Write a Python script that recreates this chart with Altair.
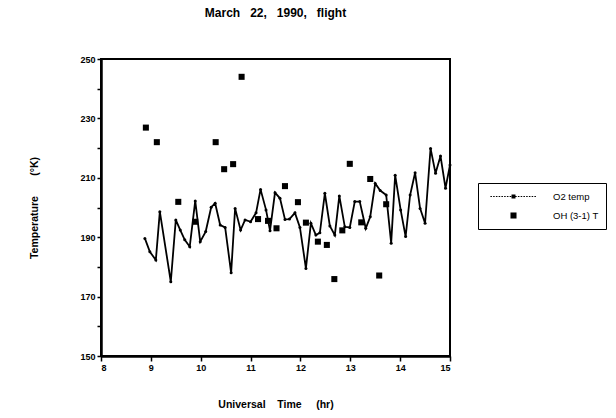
import altair as alt
import pandas as pd

# O2 temperature series (Universal Time hr, Temperature K)
o2_time = [8.88, 8.98, 9.10, 9.18, 9.40, 9.50, 9.59, 9.68, 9.78, 9.89, 9.99,
           10.10, 10.21, 10.29, 10.39, 10.49, 10.61, 10.69, 10.80, 10.89, 11.00,
           11.11, 11.20, 11.31, 11.39, 11.49, 11.59, 11.69, 11.78, 11.89, 11.99,
           12.11, 12.21, 12.31, 12.39, 12.49, 12.59, 12.69, 12.78, 12.89, 12.99,
           13.09, 13.19, 13.31, 13.40, 13.50, 13.60, 13.72, 13.82, 13.90, 14.01,
           14.11, 14.20, 14.30, 14.40, 14.50, 14.61, 14.71, 14.81, 14.91, 15.00]
o2_temp = [189.6, 185.1, 182.3, 198.6, 175.0, 195.8, 192.4, 189.1, 186.8, 202.2, 188.5,
           191.9, 200.1, 201.4, 194.1, 193.3, 178.0, 199.7, 192.4, 195.8, 195.2,
           198.2, 206.1, 199.2, 192.2, 205.0, 203.1, 196.0, 196.1, 198.2, 193.3,
           179.5, 194.7, 190.7, 191.5, 204.8, 193.8, 190.7, 203.9, 193.5, 193.3,
           202.0, 202.0, 193.0, 196.9, 208.1, 205.7, 204.2, 188.0, 210.9, 199.2,
           190.2, 204.2, 211.7, 199.7, 194.7, 219.9, 211.5, 217.3, 206.5, 214.3]

# OH (3-1) rotational temperature
oh_time = [8.90, 9.12, 9.55, 9.89, 10.30, 10.47, 10.65, 10.82, 11.15, 11.35, 11.52,
           11.69, 11.95, 12.11, 12.35, 12.53, 12.68, 12.84, 12.99, 13.22, 13.40,
           13.58, 13.72]
oh_temp = [226.9, 222.0, 201.9, 195.2, 222.0, 212.9, 214.6, 244.0, 196.1, 195.5, 193.0,
           207.2, 201.8, 194.9, 188.5, 187.4, 175.9, 192.3, 214.7, 195.0, 209.6,
           177.1, 201.1]

series_names = ["O2 temp", "OH (3-1) T"]
x_ticks = [8, 8.5, 9, 9.5, 10, 10.5, 11, 11.5, 12, 12.5, 13, 13.5, 14, 14.5, 15]
y_ticks = [150, 160, 170, 180, 190, 200, 210, 220, 230, 240, 250]

o2 = pd.DataFrame({"t": o2_time, "T": o2_temp})
oh = pd.DataFrame({"t": oh_time, "T": oh_temp, "series": series_names[1]})

NB = "\u00a0"
FONT = "Liberation Sans"

x_enc = alt.X(
    "t:Q",
    scale=alt.Scale(domain=[8, 15], nice=False, zero=False),
    axis=alt.Axis(
        values=x_ticks,
        format="d",
        title="Universal" + NB * 4 + "Time" + NB * 5 + "(hr)",
        labelExpr="datum.value % 1 === 0 ? datum.label : ''",
        tickSize={"condition": {"test": "datum.value % 1 === 0", "value": 5}, "value": 2},
        titlePadding=27,
    ),
)
y_enc = alt.Y(
    "T:Q",
    scale=alt.Scale(domain=[150, 250], nice=False, zero=False),
    axis=alt.Axis(
        values=y_ticks,
        format="d",
        title="Temperature" + NB * 7 + "(°K)",
        labelExpr="datum.value % 20 === 0 ? '' : datum.label",
        tickSize=4,
        titlePadding=40,
    ),
)

line = alt.Chart(o2).mark_line(color="black", strokeWidth=1.8).encode(x=x_enc, y=y_enc)
dots = alt.Chart(o2).mark_circle(color="black", size=9, opacity=1).encode(x=x_enc, y=y_enc)

# legend glyph for the O2 series: a dotted line with a small marker in the middle
dash_parts = []
for i in range(17):
    x0 = -4.2 + i * 0.5
    dash_parts.append("M%.2f,-0.09H%.2fV0.09H%.2fZ" % (x0, x0 + 0.28, x0))
o2_symbol = "".join(dash_parts) + "M-0.36,-0.36H0.36V0.36H-0.36Z"
sq_symbol = "M-0.55,-0.55H0.55V0.55H-0.55Z"

squares = alt.Chart(oh).mark_point(
    filled=True, color="black", opacity=1, size=121
).encode(
    x=x_enc,
    y=y_enc,
    shape=alt.Shape(
        "series:N",
        scale=alt.Scale(domain=series_names, range=[o2_symbol, sq_symbol]),
        legend=alt.Legend(
            title=None,
            orient="none",
            legendX=377,
            legendY=124,
            strokeColor="black",
            padding=7,
            symbolSize=121,
            symbolOffset=22,
            symbolFillColor="black",
            labelOffset=33,
            labelFont=FONT,
            labelFontSize=9.5,
            labelColor="black",
            rowPadding=7,
        ),
    ),
)

chart = (
    alt.layer(line, dots, squares)
    .properties(
        width=349,
        height=297,
        background="white",
        title=alt.TitleParams(
            "March" + NB * 3 + "22," + NB * 3 + "1990," + NB * 3 + "flight",
            font=FONT,
            fontSize=12,
            fontWeight="bold",
            color="black",
            anchor="middle",
            offset=35,
        ),
        autosize=alt.AutoSizeParams(type="none"),
        padding={"left": 101, "top": 59, "right": 166, "bottom": 62},
    )
    .configure_view(stroke="black", strokeWidth=2)
    .configure_axis(
        grid=False,
        domainColor="black",
        domainWidth=2.5,
        tickColor="black",
        tickWidth=1.5,
        labelFont=FONT,
        labelFontWeight="bold",
        labelFontSize=9,
        labelColor="black",
        labelPadding=2,
        titleFont=FONT,
        titleFontWeight="bold",
        titleFontSize=10.5,
        titleColor="black",
    )
)

chart.save("out.html", embed_options={"renderer": "svg", "actions": False})
